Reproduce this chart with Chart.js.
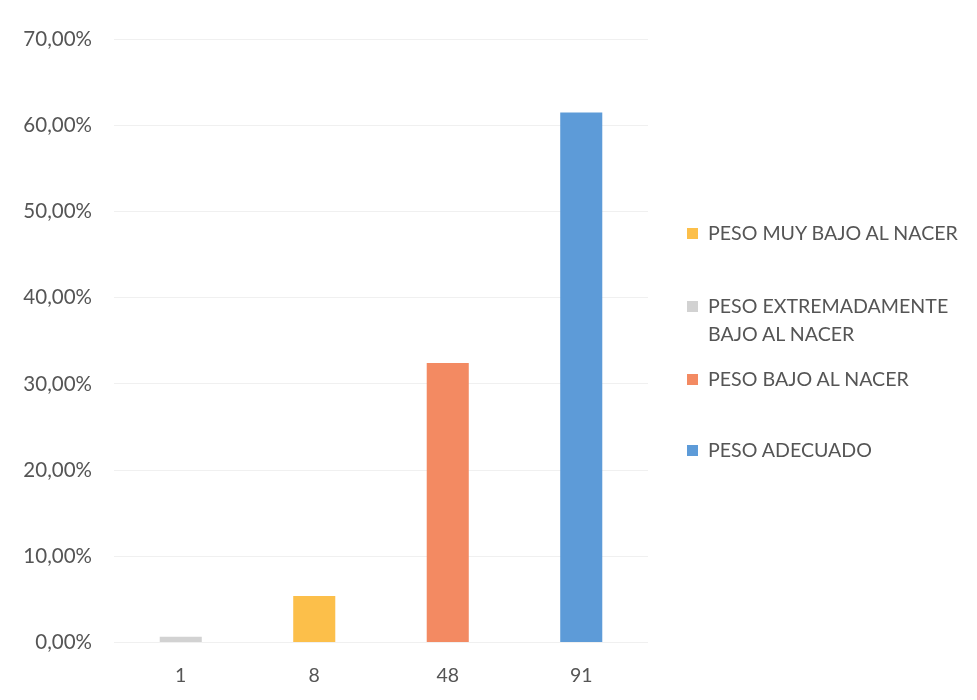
<!DOCTYPE html>
<html>
<head>
<meta charset="utf-8">
<script src="https://cdn.jsdelivr.net/npm/chart.js@4/dist/chart.umd.min.js"></script>
<style>
  html, body { margin: 0; padding: 0; background: #ffffff; }
  #wrap { position: relative; width: 977px; height: 700px; }
  #c { position: absolute; left: 0; top: 0; }
  #legend { position: absolute; left: 687px; top: 0; font-family: Lato, "Open Sans", sans-serif; font-size: 19.6px; color: #555555; }
  .item { position: absolute; left: 0; white-space: nowrap; line-height: 28px; }
  .sw { position: absolute; left: 0; width: 11px; height: 11px; top: 9px; }
  .tx { position: absolute; left: 21px; top: 0; }
</style>
</head>
<body>
<div id="wrap">
  <canvas id="c" width="977" height="700"></canvas>
  <div id="legend"></div>
</div>
<script>
// Frequencies shown on the axis (n per group) and their share of the total
const categories = ['1', '8', '48', '91'];
const seriesNames = ['PESO MUY BAJO AL NACER', 'PESO EXTREMADAMENTE BAJO AL NACER', 'PESO BAJO AL NACER', 'PESO ADECUADO'];
const muyBajo = [null, 5.41, null, null];
const extremadamenteBajo = [0.68, null, null, null];
const bajo = [null, null, 32.43, null];
const adecuado = [null, null, null, 61.49];
const seriesColors = ['#fcbf4a', '#d2d2d2', '#f38a62', '#5d9bd8'];
const yTicks = [0, 10, 20, 30, 40, 50, 60, 70];

const seriesValues = [muyBajo, extremadamenteBajo, bajo, adecuado];

const chart = new Chart(document.getElementById('c'), {
  type: 'bar',
  data: {
    labels: categories,
    datasets: seriesNames.map((name, i) => ({
      label: name,
      data: seriesValues[i],
      backgroundColor: seriesColors[i],
      borderWidth: 0,
      categoryPercentage: 0.315,
      barPercentage: 1
    }))
  },
  options: {
    responsive: false,
    animation: false,
    devicePixelRatio: 1,
    layout: { padding: { left: 20, right: 329, top: 39, bottom: 0 } },
    plugins: { legend: { display: false }, tooltip: { enabled: false } },
    scales: {
      x: {
        stacked: true,
        grid: { display: false },
        border: { display: false },
        ticks: { color: '#555555', font: { family: 'Lato', size: 19.5 }, padding: 13 }
      },
      y: {
        stacked: true,
        min: 0,
        max: 70,
        afterFit: (s) => { s.width = 94; },
        afterBuildTicks: (s) => { s.ticks = yTicks.map(v => ({ value: v })); },
        grid: { color: '#f0f0f0', lineWidth: 1, drawTicks: false },
        border: { display: false },
        ticks: {
          color: '#555555',
          font: { family: 'Lato', size: 20.5 },
          padding: 22,
          callback: (v) => v.toFixed(2).replace('.', ',') + '%'
        }
      }
    }
  }
});

// Legend on the right, in the order of the series
const legendRows = [
  { lines: ['PESO MUY BAJO AL NACER'], top: 219 },
  { lines: ['PESO EXTREMADAMENTE', 'BAJO AL NACER'], top: 292 },
  { lines: ['PESO BAJO AL NACER'], top: 365 },
  { lines: ['PESO ADECUADO'], top: 436 }
];
const legend = document.getElementById('legend');
legendRows.forEach((row, i) => {
  const item = document.createElement('div');
  item.className = 'item';
  item.style.top = row.top + 'px';
  const sw = document.createElement('span');
  sw.className = 'sw';
  sw.style.background = seriesColors[i];
  const tx = document.createElement('span');
  tx.className = 'tx';
  tx.innerHTML = row.lines.join('<br>');
  item.appendChild(sw);
  item.appendChild(tx);
  legend.appendChild(item);
});
</script>
</body>
</html>
